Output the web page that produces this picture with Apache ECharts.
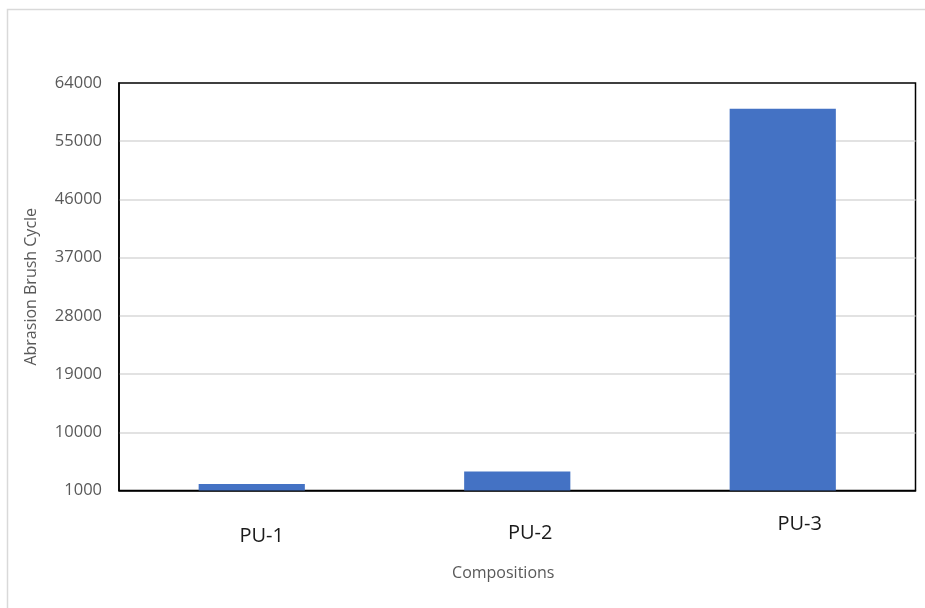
<!DOCTYPE html>
<html>
<head>
<meta charset="utf-8">
<script src="https://cdn.jsdelivr.net/npm/echarts@6/dist/echarts.min.js"></script>
<style>
html,body{margin:0;padding:0;background:#fff;}
#chart{width:925px;height:608px;}
</style>
</head>
<body>
<div id="chart"></div>
<script>
const categories = ['PU-1', 'PU-2', 'PU-3'];
const cycles = [2000, 3950, 60000];
const yMin = 1000;
const yMax = 64000;
const yStep = 9000;
const xTitle = 'Compositions';
const yTitle = 'Abrasion Brush Cycle';

const chart = echarts.init(document.getElementById('chart'), null, {renderer: 'canvas'});
const FONT = 'Open Sans';
const option = {
  animation: false,
  backgroundColor: '#ffffff',
  graphic: [{
    type: 'rect',
    shape: {x: 7.5, y: 9.5, width: 1200, height: 1200},
    style: {fill: 'none', stroke: '#d9d9d9', lineWidth: 1.5},
    silent: true, z: -10
  }],
  grid: {
    left: 119, top: 83, right: 9.5, bottom: 117.5,
    show: true, borderColor: '#000000', borderWidth: 1.5,
    backgroundColor: 'transparent'
  },
  xAxis: {
    type: 'category',
    data: categories,
    axisLine: {show: true, lineStyle: {color: '#000000', width: 1.5}},
    axisTick: {show: false},
    axisLabel: {
      margin: 0,
      interval: 0,
      formatter: (v, i) => '{l' + i + '|' + v + '}',
      rich: {
        l0: {fontFamily: FONT, fontSize: 20, lineHeight: 22, color: '#1a1a1a', padding: [69, 0, 0, 20]},
        l1: {fontFamily: FONT, fontSize: 20, lineHeight: 22, color: '#1a1a1a', padding: [63, 0, 0, 26]},
        l2: {fontFamily: FONT, fontSize: 20, lineHeight: 22, color: '#1a1a1a', padding: [45, 0, 0, 34]}
      }
    },
    name: xTitle,
    nameLocation: 'middle',
    nameGap: 75,
    nameTextStyle: {fontFamily: FONT, fontSize: 16, color: '#595959', padding: [0, 28, 0, 0]}
  },
  yAxis: {
    type: 'value',
    min: yMin,
    max: yMax,
    interval: yStep,
    axisLine: {show: true, lineStyle: {color: '#000000', width: 1.5}},
    axisTick: {show: false},
    splitLine: {show: true, showMinLine: false, showMaxLine: false, lineStyle: {color: '#d9d9d9', width: 1.5}},
    axisLabel: {margin: 17, fontFamily: FONT, fontSize: 16.5, color: '#595959', formatter: v => String(v)},
    name: yTitle,
    nameLocation: 'middle',
    nameGap: 80,
    nameTextStyle: {fontFamily: FONT, fontSize: 16, color: '#595959'}
  },
  series: [{
    type: 'bar',
    data: cycles,
    barWidth: '40%',
    itemStyle: {color: '#4472c4'},
    silent: true
  }]
};
chart.setOption(option);
</script>
</body>
</html>
